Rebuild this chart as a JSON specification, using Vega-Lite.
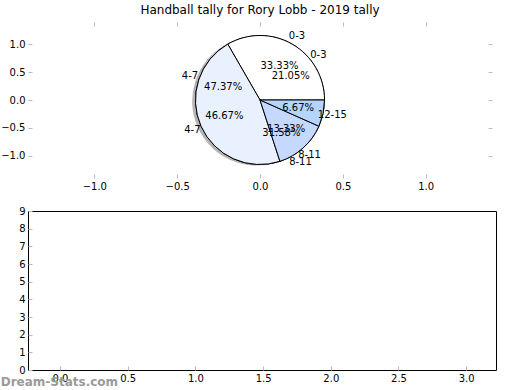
{
  "$schema": "https://vega.github.io/schema/vega-lite/v6.json",
  "background": "white",
  "padding": {"left": 0, "top": 3, "right": 5, "bottom": 3},
  "config": {
    "font": "DejaVu Sans",
    "axis": {"labelFont": "DejaVu Sans", "labelFontSize": 10, "labelColor": "black", "grid": false, "domain": false, "tickColor": "#bbbbbb", "tickSize": -4, "labelPadding": 7, "title": null}
  },
  "datasets": {
    "pies": [
      {"pie": "A", "group": "0-3", "lo": 0, "share": 0.3333},
      {"pie": "A", "group": "4-7", "lo": 4, "share": 0.4667},
      {"pie": "A", "group": "8-11", "lo": 8, "share": 0.1333},
      {"pie": "A", "group": "12-15", "lo": 12, "share": 0.0667},
      {"pie": "B", "group": "0-3", "lo": 0, "share": 0.2105},
      {"pie": "B", "group": "4-7", "lo": 4, "share": 0.4737},
      {"pie": "B", "group": "8-11", "lo": 8, "share": 0.3158}
    ],
    "empty": []
  },
  "title": {"text": "Dream-Stats.com", "orient": "bottom", "anchor": "start", "frame": "bounds", "color": "#9a9a9a", "fontSize": 12, "fontWeight": "bold", "offset": -7, "font": "DejaVu Sans"},
  "bounds": "flush",
  "spacing": 33,
  "vconcat": [
    {
      "title": {"text": "Handball tally for Rory Lobb - 2019 tally", "fontSize": 12, "fontWeight": "normal", "offset": 5, "font": "DejaVu Sans"},
      "width": 464,
      "height": 156,
      "view": {"stroke": null},
      "data": {"name": "pies"},
      "layer": [
        {
          "transform": [{"filter": "datum.pie == 'A'"}],
          "mark": {"type": "arc", "radius": 64.5, "fill": "#777777", "opacity": 0.55, "stroke": null},
          "encoding": {
            "x": {"datum": -0.02, "type": "quantitative", "scale": {"domain": [-1.242, 1.242]}, "axis": {"orient": "bottom", "values": [-1, -0.5, 0, 0.5, 1], "format": ".1f"}},
            "y": {"datum": -0.02, "type": "quantitative", "scale": {"domain": [-1.21, 1.21]}, "axis": {"orient": "left", "values": [-1, -0.5, 0, 0.5, 1], "format": ".1f"}},
            "theta": {"field": "share", "type": "quantitative", "stack": "normalize", "scale": {"range": [1.5708, -4.7124]}},
            "order": {"field": "lo", "type": "quantitative"}
          }
        },
        {
          "transform": [{"filter": "datum.pie == 'B'"}],
          "mark": {"type": "arc", "radius": 64.5, "stroke": "black", "strokeWidth": 1},
          "encoding": {
            "theta": {"field": "share", "type": "quantitative", "stack": "normalize", "scale": {"range": [1.5708, -4.7124]}},
            "order": {"field": "lo", "type": "quantitative"},
            "color": {"field": "group", "type": "nominal", "legend": null, "scale": {"domain": ["0-3", "4-7", "8-11", "12-15"], "range": ["#ffffff", "#eaf1fe", "#c5d9fe", "#b4d5fe"]}}
          }
        },
        {
          "transform": [{"filter": "datum.pie == 'A'"}],
          "mark": {"type": "arc", "radius": 64.5, "stroke": "black", "strokeWidth": 1},
          "encoding": {
            "x": {"datum": 0, "type": "quantitative", "axis": {"orient": "top", "values": [-1, -0.5, 0, 0.5, 1], "labels": false}},
            "y": {"datum": 0, "type": "quantitative", "axis": {"orient": "right", "values": [-1, -0.5, 0, 0.5, 1], "labels": false}},
            "theta": {"field": "share", "type": "quantitative", "stack": "normalize", "scale": {"range": [1.5708, -4.7124]}},
            "order": {"field": "lo", "type": "quantitative"},
            "color": {"field": "group", "type": "nominal", "legend": null}
          }
        },
        {
          "mark": {"type": "text", "fontSize": 10, "font": "DejaVu Sans", "color": "black"},
          "transform": [{"filter": "datum.pie == 'B'"}],
          "encoding": {
            "theta": {"field": "share", "type": "quantitative", "stack": "normalize", "scale": {"range": [1.5708, -4.7124]}},
            "order": {"field": "lo", "type": "quantitative"},
            "radius": {"value": 74},
            "text": {"field": "group", "type": "nominal"}
          }
        },
        {
          "mark": {"type": "text", "fontSize": 10, "font": "DejaVu Sans", "color": "black"},
          "transform": [{"filter": "datum.pie == 'A'"}],
          "encoding": {
            "theta": {"field": "share", "type": "quantitative", "stack": "normalize", "scale": {"range": [1.5708, -4.7124]}},
            "order": {"field": "lo", "type": "quantitative"},
            "radius": {"value": 74},
            "text": {"field": "group", "type": "nominal"}
          }
        },
        {
          "mark": {"type": "text", "fontSize": 10, "font": "DejaVu Sans", "color": "black"},
          "transform": [{"filter": "datum.pie == 'B'"}],
          "encoding": {
            "theta": {"field": "share", "type": "quantitative", "stack": "normalize", "scale": {"range": [1.5708, -4.7124]}},
            "order": {"field": "lo", "type": "quantitative"},
            "radius": {"value": 39},
            "text": {"field": "share", "type": "quantitative", "format": ".2%"}
          }
        },
        {
          "mark": {"type": "text", "fontSize": 10, "font": "DejaVu Sans", "color": "black"},
          "transform": [{"filter": "datum.pie == 'A'"}],
          "encoding": {
            "theta": {"field": "share", "type": "quantitative", "stack": "normalize", "scale": {"range": [1.5708, -4.7124]}},
            "order": {"field": "lo", "type": "quantitative"},
            "radius": {"value": 39},
            "text": {"field": "share", "type": "quantitative", "format": ".2%"}
          }
        }
      ],
      "resolve": {"axis": {"x": "independent", "y": "independent"}}
    },
    {
      "width": 468,
      "height": 159,
      "view": {"stroke": "black", "strokeWidth": 1},
      "data": {"name": "empty"},
      "mark": "point",
      "encoding": {
        "x": {"field": "x", "type": "quantitative", "scale": {"domain": [-0.236, 3.22], "nice": false, "zero": false}, "axis": {"values": [0, 0.5, 1, 1.5, 2, 2.5, 3], "format": ".1f"}},
        "y": {"field": "y", "type": "quantitative", "scale": {"domain": [0, 9], "nice": false}, "axis": {"values": [0, 1, 2, 3, 4, 5, 6, 7, 8, 9], "format": "d"}}
      }
    }
  ]
}
